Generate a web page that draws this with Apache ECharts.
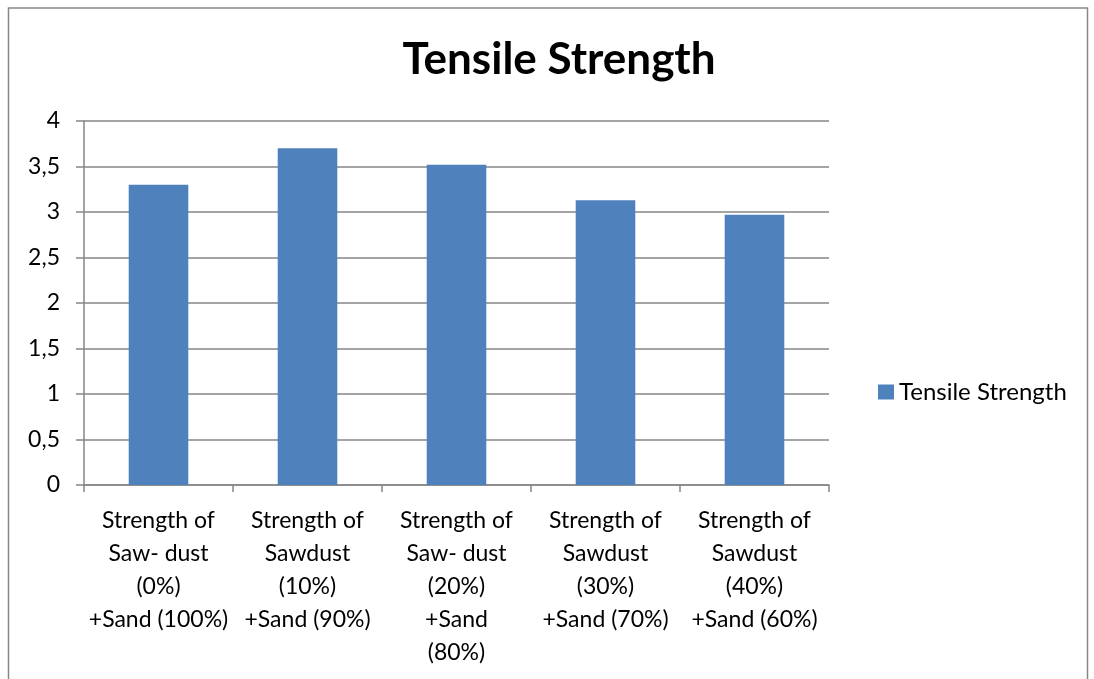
<!DOCTYPE html>
<html>
<head>
<meta charset="utf-8">
<script src="https://cdn.jsdelivr.net/npm/echarts@6/dist/echarts.min.js"></script>
<style>
  html, body { margin: 0; padding: 0; background: #fff; }
  #chart { width: 1094px; height: 679px; }
</style>
</head>
<body>
<div id="chart"></div>
<script>
// categories on the x axis
const categories = [
  'Strength of\nSaw- dust\n(0%)\n+Sand (100%)',
  'Strength of\nSawdust\n(10%)\n+Sand (90%)',
  'Strength of\nSaw- dust\n(20%)\n+Sand\n(80%)',
  'Strength of\nSawdust\n(30%)\n+Sand (70%)',
  'Strength of\nSawdust\n(40%)\n+Sand (60%)',
]
const seriesName = 'Tensile Strength'
const tensileValues = [3.30, 3.70, 3.52, 3.13, 2.97]
const yTicks = { min: 0, max: 4, interval: 0.5 }

const font = 'Lato, "Open Sans", sans-serif'
const axisGray = '#868686'

const chart = echarts.init(document.getElementById('chart'))
chart.setOption({
  animation: false,
  backgroundColor: '#fff',
  title: {
    text: 'Tensile Strength',
    left: 554,
    top: 33,
    textAlign: 'center',
    textStyle: { fontFamily: font, fontSize: 44, fontWeight: 'bold', color: '#000' },
  },
  legend: {
    data: [seriesName],
    orient: 'vertical',
    left: 873,
    top: 375,
    icon: 'rect',
    itemWidth: 16,
    itemHeight: 15,
    itemGap: 6,
    textStyle: { fontFamily: font, fontSize: 24, color: '#000' },
  },
  grid: { left: 84, right: 265, top: 121, bottom: 194 },
  xAxis: {
    type: 'category',
    data: categories,
    axisLine: { lineStyle: { color: axisGray, width: 1.5 } },
    axisTick: { show: true, length: 7, lineStyle: { color: axisGray, width: 1.5 } },
    axisLabel: {
      interval: 0,
      margin: 19,
      fontFamily: font,
      fontSize: 23,
      lineHeight: 33,
      color: '#000',
      align: 'center',
    },
  },
  yAxis: {
    type: 'value',
    min: yTicks.min,
    max: yTicks.max,
    interval: yTicks.interval,
    axisLine: { show: true, lineStyle: { color: axisGray, width: 1.5 } },
    axisTick: { show: true, length: 8, lineStyle: { color: axisGray, width: 1.5 } },
    splitLine: { lineStyle: { color: axisGray, width: 1.5 } },
    axisLabel: {
      margin: 24,
      fontFamily: font,
      fontSize: 23,
      color: '#000',
      formatter: v => String(v).replace('.', ','),
    },
  },
  series: [{
    name: seriesName,
    type: 'bar',
    data: tensileValues,
    barWidth: '40%',
    itemStyle: { color: '#4f81bd' },
  }],
  graphic: [{
    type: 'rect',
    shape: { x: 8.5, y: 8, width: 1079, height: 700 },
    style: { fill: 'none', stroke: axisGray, lineWidth: 1.5 },
    silent: true,
  }],
})
</script>
</body>
</html>
